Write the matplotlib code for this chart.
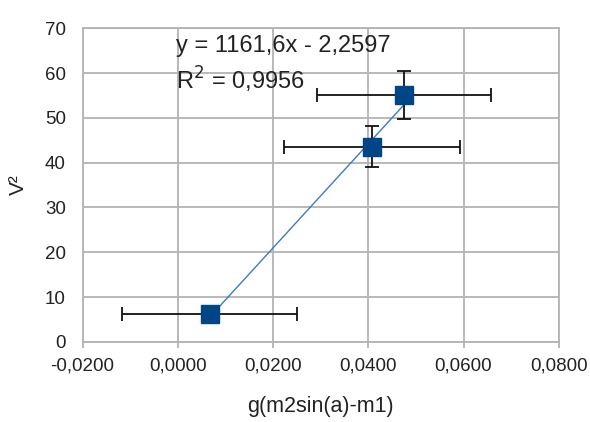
import numpy as np
import matplotlib
matplotlib.use("Agg")
import matplotlib.pyplot as plt
from matplotlib.ticker import FixedLocator, FixedFormatter

# data
x_vals = [0.0067, 0.0408, 0.0475]
y_vals = [6.2, 43.6, 55.1]
x_err = [0.0184, 0.0184, 0.0182]
y_err = [0.6, 4.5, 5.4]
x_ticks = [-0.02, 0.0, 0.02, 0.04, 0.06, 0.08]
x_tick_labels = ["-0,0200", "0,0000", "0,0200", "0,0400", "0,0600", "0,0800"]
y_ticks = [0, 10, 20, 30, 40, 50, 60, 70]
y_tick_labels = ["0", "10", "20", "30", "40", "50", "60", "70"]
slope, intercept = 1161.6, -2.2597
eq_text = "y = 1161,6x - 2,2597"
r2_text = "R$^2$ = 0,9956"

plt.rcParams['font.family'] = ['Liberation Sans', 'DejaVu Sans']

fig = plt.figure(figsize=(5.9, 4.22), dpi=100)
ax = fig.add_axes([0.140, 0.190, 0.807, 0.743])

grid_c = '#b3b3b3'
ax.set_xlim(-0.02, 0.08)
ax.set_ylim(0, 70)
ax.xaxis.set_major_locator(FixedLocator(x_ticks))
ax.xaxis.set_major_formatter(FixedFormatter(x_tick_labels))
ax.yaxis.set_major_locator(FixedLocator(y_ticks))
ax.yaxis.set_major_formatter(FixedFormatter(y_tick_labels))
ax.grid(True, color=grid_c, linewidth=1.3)
ax.set_axisbelow(True)
for s in ax.spines.values():
    s.set_color(grid_c)
    s.set_linewidth(1.3)
ax.tick_params(axis='x', colors=grid_c, length=4, width=1.3, labelcolor='#222222',
               labelsize=13.5, pad=7)
ax.tick_params(axis='y', length=0, labelcolor='#222222', labelsize=13.5, pad=12)

# trendline
xs = np.array([min(x_vals), max(x_vals)])
ax.plot(xs, slope * xs + intercept, color='#3a7cc3', linewidth=1.0, zorder=3)

ax.errorbar(x_vals, y_vals, xerr=x_err, yerr=y_err, fmt='none', ecolor='#111111',
            elinewidth=1.3, capsize=5, capthick=1.3, zorder=4)
ax.plot(x_vals, y_vals, linestyle='none', marker='s', markersize=13,
        color='#004586', zorder=5)

ax.text(-0.0003, 66.0, eq_text, fontsize=17, va='center', ha='left', color='#222222')
ax.text(-0.0003, 58.5, r2_text, fontsize=17, va='center', ha='left', color='#222222')

ax.set_xlabel("g(m2sin(a)-m1)", fontsize=15.5, color='#222222', labelpad=16)
ax.set_ylabel("V²", fontsize=15, color='#222222', labelpad=12)

fig.savefig("out.png", dpi=100)
